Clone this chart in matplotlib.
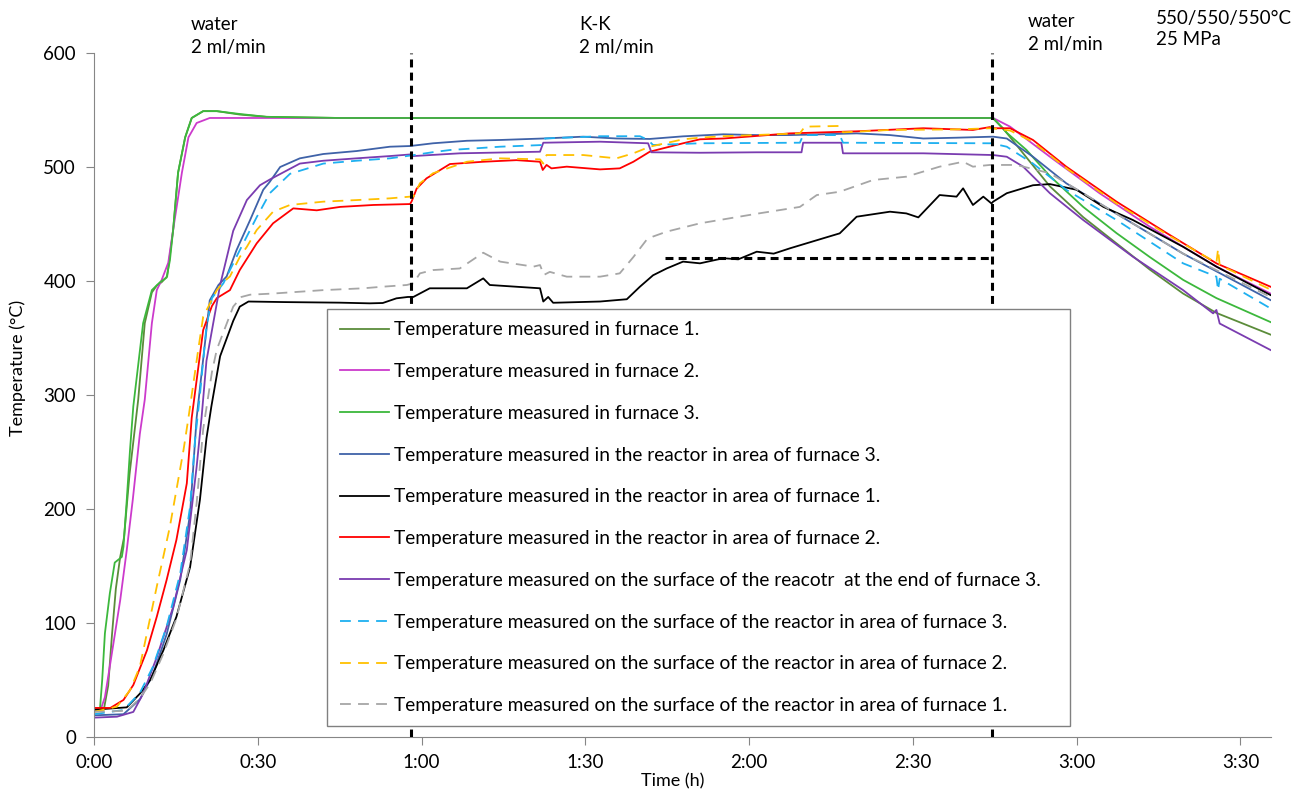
import matplotlib
matplotlib.use("Agg")
import matplotlib.pyplot as plt
from matplotlib.ticker import FuncFormatter, MultipleLocator

plt.rcParams['font.family'] = ['Lato', 'DejaVu Sans']

# time in minutes, temperature in °C
f1_t = [0, 1.8, 2.6, 3.3, 4.0, 4.8, 5.5, 6.5, 8.1, 9.3, 10.6, 11.5, 12.4, 13.4, 14.5, 15.4, 16.7, 17.9,
        20.0, 22.5, 26.7, 31.6, 45, 164.6, 166.5, 170.2, 175.1, 181.2, 187.3, 193.4, 199.5, 205.6, 215.5]
f1_T = [24, 24, 45, 90, 130, 158, 175, 230, 296, 363, 390, 396, 399, 404, 445, 495, 526, 543,
        549, 549, 546, 544, 543, 543, 534, 512, 483, 456, 433, 410, 389, 372, 353]

f2_t = [0, 1.3, 2.0, 2.9, 4.8, 6.0, 7.1, 8.4, 9.3, 10.6, 11.5, 12.4, 13.6, 14.5, 16.1, 17.3, 18.8,
        21.2, 164.7, 167.8, 175.1, 184.2, 193.4, 205.6, 215.5]
f2_T = [25, 25, 35, 62, 120, 164, 208, 266, 296, 363, 392, 401, 416, 445, 495, 526, 538.6,
        543, 543, 535.4, 509, 477, 447.6, 412.6, 389]

f3_t = [0, 1.1, 1.5, 2.0, 2.9, 3.8, 5.1, 5.4, 6.0, 6.6, 7.2, 9.0, 10.6, 12.1, 13.3, 13.9, 14.5, 15.4,
        16.7, 17.9, 20.0, 22.5, 26.7, 31.6, 45, 164.7, 167.2, 170.8, 175.1, 181.2, 187.3, 193.4,
        199.5, 205.6, 215.5]
f3_T = [25, 25, 50, 91, 126, 153, 158, 167, 208, 252, 290, 363, 392, 399, 403, 418, 445, 495,
        526, 543, 549, 549, 546.5, 544, 543, 543, 530, 515, 492, 465, 442, 421,
        401, 385, 364]

r3_t = [0, 5.4, 8.4, 10.8, 13.3, 15.8, 17.6, 18.8, 21.2, 22.8, 24.3, 26.1, 28.6, 31.0, 32.2, 34.1,
        37.7, 42.0, 48.1, 54.2, 57.9, 62.1, 68.3, 74.4, 82.3, 89.6, 95.7, 101.8, 107.9, 115.3,
        121.4, 127.5, 133.6, 139.7, 145.8, 151.9, 158.0, 164.7, 167.2, 172.0, 178.1, 187.3,
        199.5, 215.5]
r3_T = [19, 20, 33, 55, 90, 138, 196, 280, 383, 396.5, 404, 427, 453.5, 480, 487, 500,
        507.6, 511.4, 514, 517.8, 518.4, 520.8, 523, 523.7, 525, 526.6, 525, 524.6, 526.9, 528.7,
        528, 528, 528.7, 529.5, 528, 525, 525.7, 526.6, 525, 509, 485.7, 459,
        424, 383.3]

r1_t = [0, 6.0, 8.4, 10.3, 12.7, 15.1, 17.6, 19.4, 20.6, 21.5, 23.1, 25.5, 26.7, 28.3, 35, 45, 50.5,
        52.9, 55.4, 57.5, 58.5, 61.5, 68.3, 71.3, 72.5, 81.7, 82.3, 83.2, 84.1, 92.7, 97.6, 100.0,
        102.4, 104.9, 107.9, 111.0, 115.3, 118.0, 121.4, 124.5, 127.5, 133.6, 136.6, 139.7, 145.8,
        148.8, 151.0, 154.9, 158.0, 159.2, 161.0, 162.9, 164.4, 164.7, 167.2, 172.0, 175.1, 180.0,
        184.9, 190.3, 199.5, 205.6, 215.5]
r1_T = [24, 26, 38, 50, 76, 105.5, 149, 208, 262, 290, 334, 365, 377.5, 382, 381.5, 381, 380.4,
        380.7, 384.8, 386, 386, 393.6, 393.6, 402.3, 396.5, 393.6, 382, 386, 380.9, 382, 384, 395,
        405, 411, 417, 415.5, 420, 419, 425.7, 424, 428.7, 437.5, 441.8, 456.4, 460.8,
        459.3, 455.8, 475.4, 474, 481.3, 466.7, 474, 468, 469.6, 477, 484, 485, 480,
        465, 453.5, 430, 412.6, 387.7]

r2_t = [0, 3.0, 5.4, 7.2, 9.7, 11.5, 13.3, 15.1, 17.0, 17.9, 20.0, 21.6, 22.5, 24.9, 26.7, 29.8,
        32.8, 36.5, 40.8, 45.1, 51.2, 57.9, 58.2, 59.1, 60.9, 65.2, 71.3, 77.4, 81.7, 82.2, 82.9,
        83.8, 86.6, 92.7, 96.3, 98.8, 101.8, 107.9, 111.0, 115.3, 127.5, 139.7, 151.9, 161.0,
        164.1, 164.7, 167.8, 172.0, 178.1, 187.3, 196.5, 205.6, 215.5]
r2_T = [25.5, 25.5, 32.5, 45.6, 76, 105.5, 137.7, 173, 222.5, 280, 357, 378, 385, 392, 409.6, 433,
        450.6, 463.7, 462, 465, 466.7, 467.5, 470, 481, 490, 502.6, 504.6, 506, 504.6, 497.4, 501.8,
        498.8, 500.3, 497.9, 498.8, 504.6, 513.4, 520.8, 524.3, 525, 529.5, 531.3, 534, 532.5,
        535, 534, 534, 523.7, 500.3, 469.6, 442, 415.5, 395]

s_end3_t = [0, 4.2, 7.2, 9.0, 11.5, 14.5, 17.0, 18.8, 19.7, 20.6, 23.1, 25.5, 28.0, 30.4, 32.2, 37.7,
            42.0, 48.1, 54.2, 57.9, 58.5, 67.0, 81.7, 82.3, 92.7, 101.5, 102.1, 111.0, 121.4,
            129.6, 129.9, 136.9, 137.2, 151.9, 164.7, 167.2, 170.2, 175.1, 181.2, 190.3, 199.5,
            205.0, 205.6, 206.2, 215.5]
s_end3_T = [17, 17.8, 22, 38, 70, 114, 164, 237, 280, 330, 396.5, 444, 471, 484, 489, 503,
            505.5, 507.6, 509.6, 511, 509.6, 512, 513.4, 521.3, 522.2, 520.8, 512.9, 512.5, 512.9,
            512.9, 521.3, 521.3, 512, 512, 510.5, 509, 500.3, 477, 453.5, 421.3, 392,
            371.6, 374.6, 362.7, 339.5]

s3_t = [0, 5.4, 8.4, 10.8, 13.3, 15.8, 17.6, 18.5, 19.4, 20.6, 21.6, 23.7, 26.7, 29.8, 32.2, 35.9,
        42.0, 48.1, 54.2, 57.9, 62.1, 65.2, 74.4, 82.2, 82.6, 92.7, 100.0, 101.5, 102.4, 111.0,
        129.3, 129.9, 136.6, 137.2, 164.4, 167.2, 172.0, 178.1, 187.3, 199.5, 205.6, 205.9,
        206.2, 215.5]
s3_T = [20, 23.7, 38.6, 61.7, 96.8, 143.6, 202, 260, 300, 360, 385, 398, 427, 456, 477, 494,
        503, 505.5, 507.6, 510, 513, 514.9, 517.8, 519.3, 525, 527, 527, 523.7, 519.3, 520.8,
        521.3, 528, 528, 521.3, 520.8, 517.8, 503, 480, 453.5, 415.5, 403.8, 392,
        402, 376]

s2_t = [0, 4.2, 6.6, 8.4, 11.5, 13.9, 16.4, 17.3, 19.1, 20.0, 22.5, 23.7, 24.9, 26.7, 28.0, 29.8,
        32.8, 35.9, 42.0, 48.1, 54.2, 57.9, 58.5, 59.7, 62.1, 68.3, 74.4, 81.7, 82.3, 82.9, 89.6,
        95.7, 98.8, 101.8, 107.9, 111.0, 115.3, 129.3, 130.2, 136.6, 137.2, 145.8, 158.0, 164.4,
        167.8, 172.0, 178.1, 187.3, 196.5, 205.6, 205.9, 206.2, 215.5]
s2_T = [22, 26.6, 41, 61.7, 132, 184.5, 251.8, 280, 340, 368.7, 392, 399, 404, 421, 430, 444.7,
        460.8, 466.7, 469.6, 471, 472.5, 474, 474, 485.7, 494.5, 504.6, 507.6, 506.7, 503, 510.5, 510.5,
        507.6, 512, 517.8, 524.3, 525.7, 527, 529.5, 535.4, 536, 530.4, 532.5, 533, 534,
        532, 522, 499, 468, 441, 416, 428, 414, 392.5]

s1_t = [0, 6.0, 8.4, 10.3, 12.7, 15.1, 17.6, 18.8, 20.0, 21.6, 22.5, 25.5, 27.0, 28.6, 32.8, 42.0,
        49.3, 52.9, 57.3, 58.5, 59.7, 62.1, 67.0, 71.3, 74.4, 80.5, 81.7, 82.4, 83.5, 86.6, 92.7,
        96.3, 98.8, 101.2, 102.4, 104.9, 111.0, 121.4, 129.3, 132.4, 136.6, 142.7, 148.8, 154.9,
        159.2, 161.0, 164.1, 169.0, 175.1, 181.2, 187.3, 199.5, 215.5]
s1_T = [22, 23, 34, 47, 73, 104, 152, 205, 270, 320, 340, 377.5, 386, 388, 389, 392,
        393.6, 395, 396.5, 398, 406.7, 409.6, 411, 424.8, 417, 412.6, 414, 405.3, 408, 403.8, 403.8,
        406.7, 421, 436, 439, 443.3, 450.6, 459, 465, 475.4, 478.3, 488.6, 491.5, 500.3,
        504.6, 500.3, 501.8, 501.8, 494.5, 477, 459, 424, 386]

labels = [
    "Temperature measured in furnace 1.",
    "Temperature measured in furnace 2.",
    "Temperature measured in furnace 3.",
    "Temperature measured in the reactor in area of furnace 3.",
    "Temperature measured in the reactor in area of furnace 1.",
    "Temperature measured in the reactor in area of furnace 2.",
    "Temperature measured on the surface of the reacotr  at the end of furnace 3.",
    "Temperature measured on the surface of the reactor in area of furnace 3.",
    "Temperature measured on the surface of the reactor in area of furnace 2.",
    "Temperature measured on the surface of the reactor in area of furnace 1.",
]
series = [(f1_t, f1_T), (f2_t, f2_T), (f3_t, f3_T), (r3_t, r3_T), (r1_t, r1_T), (r2_t, r2_T),
          (s_end3_t, s_end3_T), (s3_t, s3_T), (s2_t, s2_T), (s1_t, s1_T)]
colors = ["#5B8C3A", "#CC3ACC", "#3CB83C", "#3F62A8", "#000000", "#FF0000",
          "#7A3CB0", "#1EB0F0", "#FFC000", "#A6A6A6"]
dashed = [False] * 7 + [True] * 3

# phase markers
switch_times = [58.0, 164.5]
level_line = (104.6, 164.5, 420)

fig = plt.figure(figsize=(13.01, 7.95), dpi=100)
ax = fig.add_axes([94 / 1301, 1 - 737 / 795, 1177 / 1301, 684 / 795])

handles = []
for (t, T), c, d, lab in zip(series, colors, dashed, labels):
    ln, = ax.plot(t, T, color=c, lw=1.3, label=lab)
    if d:
        ln.set_dashes((6, 4))
    handles.append(ln)

for st in switch_times:
    ax.plot([st, st], [0, 600], color="black", lw=2.2, dashes=(2.6, 1.7), zorder=3)
ax.plot([level_line[0], level_line[1]], [level_line[2], level_line[2]], color="black", lw=2.2,
        dashes=(2.6, 1.7), zorder=3)

ax.set_xlim(0, 215.6)
ax.set_ylim(0, 600)
ax.xaxis.set_major_locator(MultipleLocator(30))
ax.yaxis.set_major_locator(MultipleLocator(100))
ax.xaxis.set_major_formatter(FuncFormatter(lambda v, p: f"{int(v // 60)}:{int(round(v % 60)):02d}"))
for s in ["top", "right"]:
    ax.spines[s].set_visible(False)
for s in ["left", "bottom"]:
    ax.spines[s].set_color("#868686")
ax.tick_params(axis="both", colors="#868686", labelcolor="black", labelsize=13.5, length=6, direction="out")
ax.tick_params(axis="x", pad=6)
ax.tick_params(axis="y", pad=7)

fig.text(18 / 1301, 1 - 368 / 795, "Temperature (°C)", rotation=90, ha="center", va="center", fontsize=13)
fig.text(673 / 1301, 1 - 781 / 795, "Time (h)", ha="center", va="center", fontsize=13)

fig.text(191 / 1301, 1 - 16 / 795, "water\n2 ml/min", ha="left", va="top", fontsize=13.5, linespacing=1.4)
fig.text(579 / 1301, 1 - 16 / 795, "K-K\n2 ml/min", ha="left", va="top", fontsize=13.5, linespacing=1.4)
fig.text(1028 / 1301, 1 - 13 / 795, "water\n2 ml/min", ha="left", va="top", fontsize=13.5, linespacing=1.4)
fig.text(1156 / 1301, 1 - 10 / 795, "550/550/550°C\n25 MPa", ha="left", va="top", fontsize=13.5, linespacing=1.3)

leg = ax.legend(handles=handles, loc="upper left", bbox_to_anchor=(0.198, 0.0, 0.631, 0.6257),
                mode="expand", borderaxespad=0, fontsize=13.8, handlelength=2.6, handletextpad=0.25,
                labelspacing=1.29, borderpad=0.65, fancybox=False, framealpha=1, edgecolor="#808080")
leg.get_frame().set_linewidth(1.0)

fig.savefig("out.png", dpi=100)
